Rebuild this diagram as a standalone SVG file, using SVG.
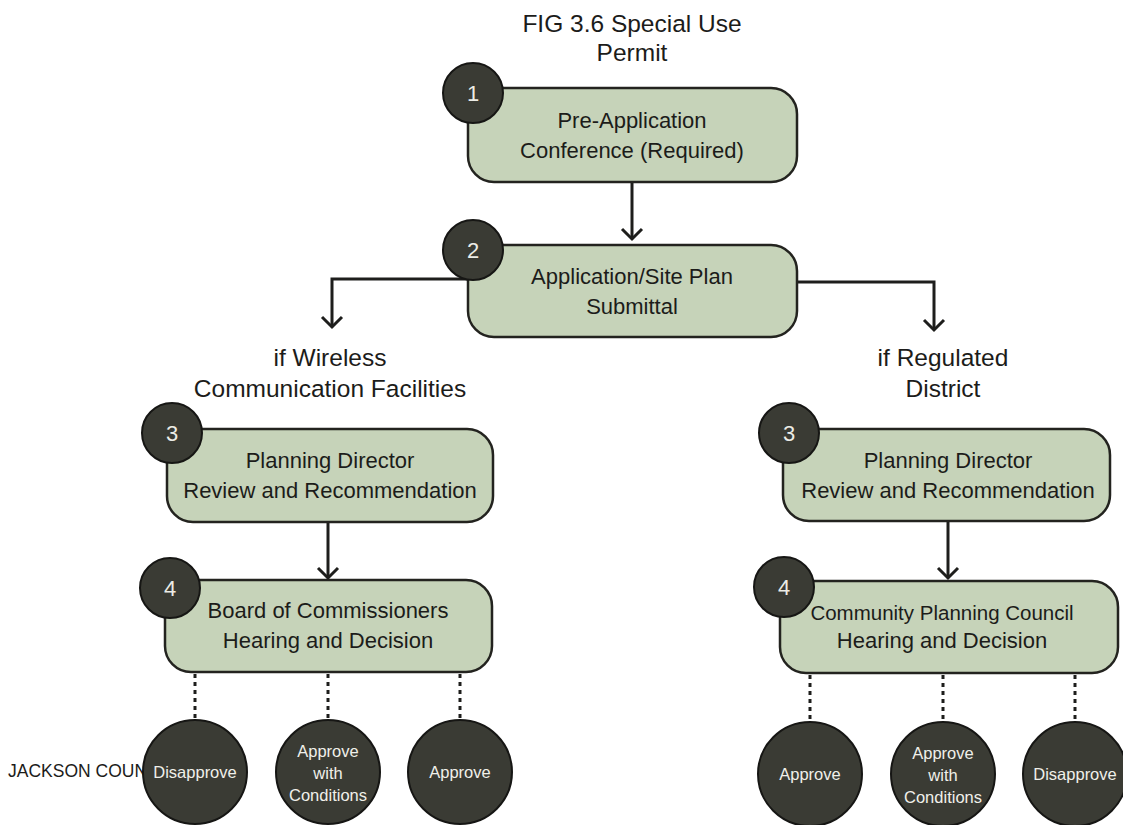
<svg xmlns="http://www.w3.org/2000/svg" width="1123" height="825" viewBox="0 0 1123 825">
<defs>
<style>
.box{fill:#c6d3b9;stroke:#23231f;stroke-width:2.5}
.num{fill:#3a3b34;stroke:#161614;stroke-width:2}
.numt{font-family:"Liberation Sans",Arial,sans-serif;font-size:22px;fill:#ecece6;text-anchor:middle}
.bt{font-family:"Liberation Sans",Arial,sans-serif;font-size:22px;fill:#1c1c1a;text-anchor:middle}
.lt{font-family:"Liberation Sans",Arial,sans-serif;font-size:24.5px;fill:#1c1c1a;text-anchor:middle}
.dec{fill:#3a3b34;stroke:#161614;stroke-width:2}
.dt{font-family:"Liberation Sans",Arial,sans-serif;font-size:16.5px;fill:#f0f0ea;text-anchor:middle}
.con{fill:none;stroke:#1e1e1c;stroke-width:3}
.dot{fill:none;stroke:#1e1e1c;stroke-width:3;stroke-dasharray:4 4}
</style>
</defs>
<rect width="1123" height="825" fill="#ffffff"/>

<g id="title">
<text class="lt" x="632" y="32">FIG 3.6 Special Use</text>
<text class="lt" x="632" y="61">Permit</text>
</g>

<text id="footer" x="8" y="777" font-family="'Liberation Sans',Arial,sans-serif" font-size="17.5px" fill="#1c1c1a">JACKSON COUN</text>

<g id="connectors">
<path class="con" d="M632 182 V239"/>
<path class="con" d="M622 229 L632 239 L642 229"/>
<path class="con" d="M468 279 H332 V327"/>
<path class="con" d="M322 317 L332 327 L342 317"/>
<path class="con" d="M797 282 H934 V330"/>
<path class="con" d="M924 320 L934 330 L944 320"/>
<path class="con" d="M328 522 V578"/>
<path class="con" d="M318 568 L328 578 L338 568"/>
<path class="con" d="M948 521 V578"/>
<path class="con" d="M938 568 L948 578 L958 568"/>
<path class="dot" d="M195 674 V720"/>
<path class="dot" d="M328 674 V720"/>
<path class="dot" d="M460 674 V720"/>
<path class="dot" d="M810 675 V721"/>
<path class="dot" d="M943 675 V721"/>
<path class="dot" d="M1075 675 V721"/>
</g>

<g id="step1">
<rect class="box" x="468" y="88" width="329" height="94" rx="26"/>
<circle class="num" cx="473" cy="93" r="30"/>
<text class="numt" x="473" y="101">1</text>
<text class="bt" x="632" y="128">Pre-Application</text>
<text class="bt" x="632" y="158">Conference (Required)</text>
</g>

<g id="step2">
<rect class="box" x="468" y="245" width="329" height="92" rx="26"/>
<circle class="num" cx="473" cy="250" r="30"/>
<text class="numt" x="473" y="258">2</text>
<text class="bt" x="632" y="284">Application/Site Plan</text>
<text class="bt" x="632" y="314">Submittal</text>
</g>

<g id="label-wireless">
<text class="lt" x="330" y="366">if Wireless</text>
<text class="lt" x="330" y="397">Communication Facilities</text>
</g>

<g id="label-regulated">
<text class="lt" x="943" y="366">if Regulated</text>
<text class="lt" x="943" y="397">District</text>
</g>

<g id="step3-left">
<rect class="box" x="167" y="429" width="326" height="93" rx="26"/>
<circle class="num" cx="172" cy="433" r="30"/>
<text class="numt" x="172" y="441">3</text>
<text class="bt" x="330" y="468">Planning Director</text>
<text class="bt" x="330" y="498">Review and Recommendation</text>
</g>

<g id="step4-left">
<rect class="box" x="165" y="580" width="327" height="92" rx="26"/>
<circle class="num" cx="170" cy="588" r="30"/>
<text class="numt" x="170" y="596">4</text>
<text class="bt" x="328" y="618">Board of Commissioners</text>
<text class="bt" x="328" y="648">Hearing and Decision</text>
</g>

<g id="step3-right">
<rect class="box" x="783" y="429" width="327" height="92" rx="26"/>
<circle class="num" cx="789" cy="433" r="30"/>
<text class="numt" x="789" y="441">3</text>
<text class="bt" x="948" y="468">Planning Director</text>
<text class="bt" x="948" y="498">Review and Recommendation</text>
</g>

<g id="step4-right">
<rect class="box" x="780" y="581" width="338" height="92" rx="26"/>
<circle class="num" cx="784" cy="587" r="30"/>
<text class="numt" x="784" y="595">4</text>
<text class="bt" x="942" y="620" style="font-size:20.5px">Community Planning Council</text>
<text class="bt" x="942" y="648">Hearing and Decision</text>
</g>

<g id="left-disapprove">
<circle class="dec" cx="195" cy="772" r="52"/>
<text class="dt" x="195" y="778">Disapprove</text>
</g>
<g id="left-conditions">
<circle class="dec" cx="328" cy="772" r="52"/>
<text class="dt" x="328" y="757">Approve</text>
<text class="dt" x="328" y="779">with</text>
<text class="dt" x="328" y="801">Conditions</text>
</g>
<g id="left-approve">
<circle class="dec" cx="460" cy="772" r="52"/>
<text class="dt" x="460" y="778">Approve</text>
</g>

<g id="right-approve">
<circle class="dec" cx="810" cy="774" r="52"/>
<text class="dt" x="810" y="780">Approve</text>
</g>
<g id="right-conditions">
<circle class="dec" cx="943" cy="774" r="52"/>
<text class="dt" x="943" y="759">Approve</text>
<text class="dt" x="943" y="781">with</text>
<text class="dt" x="943" y="803">Conditions</text>
</g>
<g id="right-disapprove">
<circle class="dec" cx="1075" cy="774" r="52"/>
<text class="dt" x="1075" y="780">Disapprove</text>
</g>
</svg>
